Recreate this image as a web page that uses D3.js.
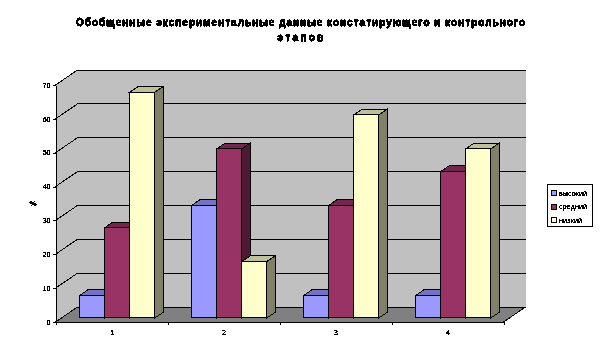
<!DOCTYPE html>
<html>
<head>
<meta charset="utf-8">
<script src="https://cdn.jsdelivr.net/npm/d3@7"></script>
<style>
  html, body { margin: 0; background: #fff; }
  svg { display: block; }
  text { font-family: "Liberation Sans", sans-serif; fill: #000; }
</style>
</head>
<body>
<div id="chart"></div>
<script>
const titleLines = ["Обобщенные экспериментальные данные констатирующего и контрольного", "этапов"];
const categories = ["1", "2", "3", "4"];
const seriesNames = ["высокий", "средний", "низкий"];
const seriesHigh = [6.7, 33.3, 6.7, 6.7];
const seriesMid = [26.7, 50, 33.3, 43.3];
const seriesLow = [66.7, 16.7, 60, 50];
const yTicks = [0, 10, 20, 30, 40, 50, 60, 70];
const colours = ["#9999ff", "#993366", "#ffffcc"];
const topColours = ["#7373bf", "#732650", "#bfbf99"];
const sideColours = ["#4d4d80", "#4d1a33", "#808066"];

const width = 602, height = 358;
const plot = { left: 55.5, right: 503.5, top: 85, bottom: 322 };
const depth = { x: 22, y: -15 };          // floor depth of the 3d box
const barFront = 0.27, barBack = 0.64;    // where the bars sit in that depth

const svg = d3.select("#chart").append("svg")
  .attr("width", width)
  .attr("height", height);

// threshold the text alpha so it looks like the old bitmap chart fonts
const defs = svg.append("defs");
defs.append("filter").attr("id", "hard")
  .attr("x", "-5%").attr("y", "-20%").attr("width", "110%").attr("height", "140%")
  .append("feComponentTransfer").append("feFuncA")
  .attr("type", "discrete").attr("tableValues", "0 1 1 1");
defs.append("filter").attr("id", "heavy")
  .attr("x", "-5%").attr("y", "-20%").attr("width", "110%").attr("height", "140%")
  .append("feComponentTransfer").append("feFuncA")
  .attr("type", "discrete").attr("tableValues", "0 1 1 1 1 1");

const x = d3.scaleBand().domain(categories).range([plot.left, plot.right]);
const y = d3.scaleLinear().domain([0, 70]).range([plot.bottom, plot.top]);
const xGroup = d3.scaleBand().domain(d3.range(3))
  .range([0, x.bandwidth()]).paddingOuter(0.74).paddingInner(0);

const pts = (arr) => arr.map((p) => p.join(",")).join(" ");
const g = svg.append("g").attr("shape-rendering", "crispEdges")
  .attr("stroke-linejoin", "miter");

// back wall, side wall, floor
g.append("polygon")
  .attr("points", pts([
    [plot.left + depth.x, y(70) + depth.y], [plot.right + depth.x, y(70) + depth.y],
    [plot.right + depth.x, y(0) + depth.y], [plot.left + depth.x, y(0) + depth.y],
  ]))
  .attr("fill", "#c0c0c0");
g.append("polygon")
  .attr("points", pts([
    [plot.left, y(70)], [plot.left + depth.x, y(70) + depth.y],
    [plot.left + depth.x, y(0) + depth.y], [plot.left, y(0)],
  ]))
  .attr("fill", "#c0c0c0");
g.append("polygon")
  .attr("points", pts([
    [plot.left, y(0)], [plot.right, y(0)],
    [plot.right + depth.x, y(0) + depth.y], [plot.left + depth.x, y(0) + depth.y],
  ]))
  .attr("fill", "#808080");

// gridlines
yTicks.forEach((t) => {
  g.append("polyline")
    .attr("points", pts([
      [plot.left, y(t)], [plot.left + depth.x, y(t) + depth.y],
      [plot.right + depth.x, y(t) + depth.y],
    ]))
    .attr("fill", "none").attr("stroke", "#000");
});
g.append("line")
  .attr("x1", plot.right).attr("y1", y(0))
  .attr("x2", plot.right + depth.x).attr("y2", y(0) + depth.y)
  .attr("stroke", "#000");

// axes
const yAxis = d3.axisLeft(y).tickValues(yTicks).tickSize(3).tickPadding(2).tickSizeOuter(0);
const xAxis = d3.axisBottom(d3.scaleLinear().domain([0, 4]).range([plot.left, plot.right]))
  .ticks(4).tickSize(3).tickFormat("").tickSizeOuter(0);
g.append("g").attr("transform", `translate(${plot.left},0)`).call(yAxis)
  .call((a) => a.selectAll("text").attr("font-size", 7).attr("filter", "url(#hard)"));
g.append("g").attr("transform", `translate(0,${plot.bottom})`).call(xAxis);

// bars
const allSeries = [seriesHigh, seriesMid, seriesLow];
const bars = categories.flatMap((c, i) => allSeries.map((s, k) => ({ c, k, v: s[i] })));
const dx0 = depth.x * barFront, dy0 = depth.y * barFront;
const dx1 = depth.x * barBack, dy1 = depth.y * barBack;

const bar = g.append("g").attr("stroke", "#000").selectAll("g")
  .data(bars).join("g");

bar.append("polygon") // top
  .attr("points", (d) => {
    const l = x(d.c) + xGroup(d.k), r = l + xGroup.bandwidth(), t = y(d.v);
    return pts([[l + dx0, t + dy0], [l + dx1, t + dy1], [r + dx1, t + dy1], [r + dx0, t + dy0]]);
  })
  .attr("fill", (d) => topColours[d.k]);
bar.append("polygon") // side
  .attr("points", (d) => {
    const r = x(d.c) + xGroup(d.k) + xGroup.bandwidth();
    return pts([[r + dx0, y(d.v) + dy0], [r + dx1, y(d.v) + dy1], [r + dx1, y(0) + dy1], [r + dx0, y(0) + dy0]]);
  })
  .attr("fill", (d) => sideColours[d.k]);
bar.append("rect") // front
  .attr("x", (d) => x(d.c) + xGroup(d.k) + dx0)
  .attr("y", (d) => y(d.v) + dy0)
  .attr("width", xGroup.bandwidth())
  .attr("height", (d) => y(0) - y(d.v))
  .attr("fill", (d) => colours[d.k]);

// category labels
const text = svg.append("g").attr("filter", "url(#hard)");
text.selectAll(".cat").data(categories).join("text")
  .attr("x", (d) => x(d) + x.bandwidth() / 2 + 0.5)
  .attr("y", 335)
  .attr("text-anchor", "middle").attr("font-size", 7)
  .text((d) => d);
text.append("text").attr("x", 33).attr("y", 206)
  .attr("text-anchor", "middle").attr("font-size", 8).attr("font-weight", "bold").text("%");

// title
const titleWidths = [449, 46];
svg.append("g").attr("filter", "url(#heavy)").selectAll(".title").data(titleLines).join("text")
  .attr("x", 300.5)
  .attr("y", (d, i) => 26 + i * 15)
  .attr("text-anchor", "middle")
  .attr("font-size", 10).attr("font-weight", "bold")
  .attr("stroke", "#000").attr("stroke-width", 0.3)
  .attr("textLength", (d, i) => titleWidths[i])
  .text((d) => d);

// legend
const legend = svg.append("g");
legend.append("rect").attr("x", 547.5).attr("y", 184.5).attr("width", 45).attr("height", 42)
  .attr("fill", "#fff").attr("stroke", "#000").attr("shape-rendering", "crispEdges");
const legendY = d3.scalePoint().domain(seriesNames).range([192.5, 219.5]);
legend.selectAll(".sw").data(seriesNames).join("rect")
  .attr("x", 551.5).attr("y", (d) => legendY(d) - 2).attr("width", 5).attr("height", 5)
  .attr("fill", (d, i) => colours[i]).attr("stroke", "#000").attr("shape-rendering", "crispEdges");
legend.append("g").attr("filter", "url(#hard)").selectAll("text").data(seriesNames).join("text")
  .attr("x", 559).attr("y", (d) => legendY(d) + 3)
  .attr("font-size", 7).attr("textLength", (d, i) => [28, 28, 23][i])
  .text((d) => d);
</script>
</body>
</html>
